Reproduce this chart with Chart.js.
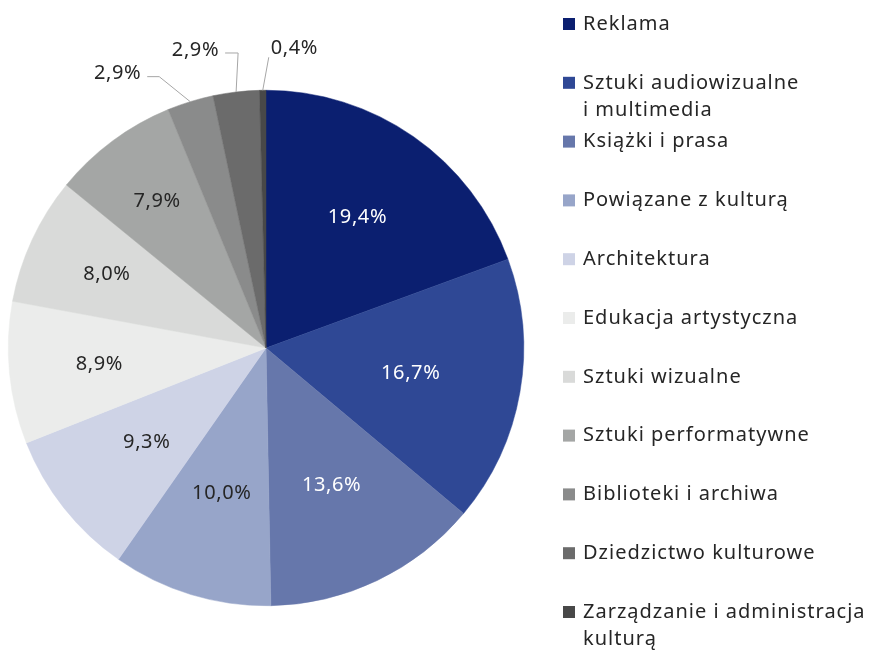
<!DOCTYPE html>
<html>
<head>
<meta charset="utf-8">
<script src="https://cdn.jsdelivr.net/npm/chart.js@4"></script>
<style>
  html, body { margin: 0; padding: 0; background: #ffffff; }
  #wrap { width: 873px; height: 653px; position: relative; }
</style>
</head>
<body>
<div id="wrap"><canvas id="pie"></canvas></div>
<script>
// Sectors of culture, share in %.
const sectorNames = [
  'Reklama',
  'Sztuki audiowizualne\ni multimedia',
  'Książki i prasa',
  'Powiązane z kulturą',
  'Architektura',
  'Edukacja artystyczna',
  'Sztuki wizualne',
  'Sztuki performatywne',
  'Biblioteki i archiwa',
  'Dziedzictwo kulturowe',
  'Zarządzanie i administracja\nkulturą'
];

const sectorShares = [19.4, 16.7, 13.6, 10.0, 9.3, 8.9, 8.0, 7.9, 2.9, 2.9, 0.4];

const sectorColors = [
  '#0b1f70', '#2f4895', '#6677ab', '#97a5c9', '#ced3e6', '#ebeceb',
  '#d9dad9', '#a4a6a5', '#8a8b8b', '#6b6b6b', '#484848'
];

// white text only on the three dark slices
const labelColors = [
  '#ffffff', '#ffffff', '#ffffff', '#262626', '#262626', '#262626',
  '#262626', '#262626', '#262626', '#262626', '#262626'
];

// how far out (share of radius) each inside label sits
const labelRadius = [0.62, 0.57, 0.59, 0.59, 0.59, 0.65, 0.68, 0.71];

const FONT = '"Noto Sans", "Open Sans", sans-serif';

// Small slices get their label outside with a leader line.
const outsideLabels = {
  8: { elbow: [-31, -25], tail: -12 },
  9: { elbow: [2, -39], tail: -13 },
  10: { elbow: [6, -33], tail: 0 }
};

const fmt = v => v.toFixed(1).replace('.', ',') + '%';

const sliceLabels = {
  id: 'sliceLabels',
  afterDatasetsDraw(chart) {
    const ctx = chart.ctx;
    const arcs = chart.getDatasetMeta(0).data;
    ctx.save();
    ctx.font = '20px ' + FONT;
    ctx.letterSpacing = '0.6px';
    ctx.textBaseline = 'middle';
    arcs.forEach((arc, i) => {
      const p = arc.getProps(['x', 'y', 'startAngle', 'endAngle', 'outerRadius'], true);
      const mid = (p.startAngle + p.endAngle) / 2;
      const text = fmt(sectorShares[i]);
      if (outsideLabels[i]) {
        const o = outsideLabels[i];
        const ex = p.x + Math.cos(mid) * p.outerRadius;
        const ey = p.y + Math.sin(mid) * p.outerRadius;
        const bx = ex + o.elbow[0];
        const by = ey + o.elbow[1];
        ctx.strokeStyle = '#a6a6a6';
        ctx.lineWidth = 1;
        ctx.beginPath();
        ctx.moveTo(ex, ey);
        ctx.lineTo(bx, by);
        if (o.tail) ctx.lineTo(bx + o.tail, by);
        ctx.stroke();
        ctx.fillStyle = '#262626';
        if (o.tail) {
          ctx.textAlign = 'right';
          ctx.fillText(text, bx + o.tail - 6, by - 3);
        } else {
          ctx.textAlign = 'left';
          ctx.fillText(text, bx + 2, by - 9);
        }
      } else {
        const r = p.outerRadius * labelRadius[i];
        ctx.textAlign = 'center';
        ctx.fillStyle = labelColors[i];
        ctx.fillText(text, p.x + Math.cos(mid) * r, p.y + Math.sin(mid) * r);
      }
    });
    ctx.restore();
  }
};

// Legend drawn on the right, one row per sector.
const sideLegend = {
  id: 'sideLegend',
  afterDraw(chart) {
    const ctx = chart.ctx;
    ctx.save();
    ctx.font = '20px ' + FONT;
    ctx.letterSpacing = '1px';
    ctx.textBaseline = 'middle';
    ctx.textAlign = 'left';
    chart.data.labels.forEach((name, i) => {
      const y = 24 + i * 58.8;
      ctx.fillStyle = sectorColors[i];
      ctx.fillRect(563, y - 6, 12, 12);
      ctx.fillStyle = '#262626';
      name.split('\n').forEach((line, k) => {
        ctx.fillText(line, 583, y + k * 27);
      });
    });
    ctx.restore();
  }
};

new Chart(document.getElementById('pie').getContext('2d'), {
  type: 'pie',
  data: {
    labels: sectorNames,
    datasets: [{
      data: sectorShares,
      backgroundColor: sectorColors,
      borderColor: sectorColors,
      borderWidth: 0.5
    }]
  },
  options: {
    responsive: true,
    maintainAspectRatio: false,
    animation: false,
    layout: { padding: { top: 90, bottom: 47, left: 8, right: 349 } },
    plugins: {
      legend: { display: false },
      tooltip: { enabled: false }
    }
  },
  plugins: [sliceLabels, sideLegend]
});
</script>
</body>
</html>
